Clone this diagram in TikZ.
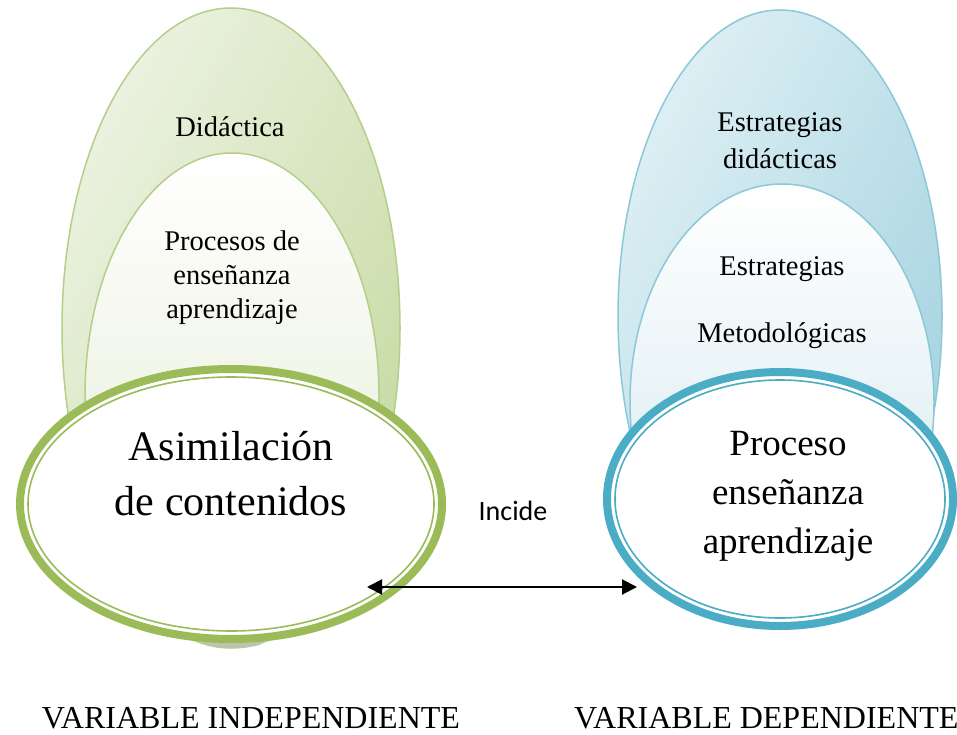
\documentclass[tikz,border=0pt]{standalone}
\usepackage{fontspec}
\setmainfont{Liberation Serif}
\newfontfamily\calfont{Carlito}
\usetikzlibrary{shapes.geometric,arrows.meta}
\definecolor{gline}{HTML}{9BBB59}
\definecolor{gedge}{HTML}{B5CE8A}
\definecolor{gfillL}{HTML}{EBF2E0}
\definecolor{gfillR}{HTML}{C6DAA2}
\definecolor{ginB}{HTML}{E3EBD1}
\definecolor{gshadow}{HTML}{BCC5AC}
\definecolor{bline}{HTML}{4BACC6}
\definecolor{bedge}{HTML}{8CC8D8}
\definecolor{bfillL}{HTML}{DDEFF4}
\definecolor{bfillR}{HTML}{A3D2DF}
\definecolor{binB}{HTML}{D2E7EE}
\tikzset{
  txt/.style={anchor=base, inner sep=0pt, font=\fontsize{28.5}{34}\selectfont},
  bigtxt/.style={anchor=base, inner sep=0pt, font=\fontsize{42}{50}\selectfont},
  midtxt/.style={anchor=base, inner sep=0pt, font=\fontsize{37}{44}\selectfont},
  vartxt/.style={inner sep=0pt, font=\fontsize{32}{38}\selectfont},
  front/.style={ellipse, inner sep=0pt, fill=white, line width=8pt},
  biarrow/.style={line width=2pt, >={Triangle[length=15pt,width=15pt]}, <->},
}
\begin{document}
\begin{tikzpicture}[x=1pt,y=-1pt]
\useasboundingbox (0,0) rectangle (957,735);
\fill[white] (0,0) rectangle (957,735);
% green eggs
\draw[gedge, line width=1.5pt, left color=gfillL, right color=gfillR, shading angle=60]
  (231,328) ellipse [x radius=169pt, y radius=320pt];
\fill[gshadow] (233,642) ellipse [x radius=30pt, y radius=6pt];
\draw[gedge, line width=1.5pt, top color=white, bottom color=ginB]
  (232,396) ellipse [x radius=147pt, y radius=243pt];
% blue eggs
\draw[bedge, line width=1.5pt, left color=bfillL, right color=bfillR, shading angle=60]
  (780,316) ellipse [x radius=162pt, y radius=306pt];
\draw[bedge, line width=1.5pt, top color=white, bottom color=binB]
  (782,402) ellipse [x radius=152pt, y radius=218pt];
% front ellipses
\node[front, draw=gline, minimum width=422pt, minimum height=270pt] (asim) at (231,504) {};
\draw[gline, line width=1.6pt] (asim.center) ellipse [x radius=203pt, y radius=127pt];
\node[front, draw=bline, minimum width=346pt, minimum height=254pt] (proc) at (780,499) {};
\draw[bline, line width=1.6pt] (proc.center) ellipse [x radius=165pt, y radius=119pt];
% texts
\node[txt] (t1) at (230,137) {Didáctica};
\node[txt] (t2) at (232,250) {Procesos de};
\node[txt] (t3) at (232,284) {enseñanza};
\node[txt] (t4) at (232,318) {aprendizaje};
\node[txt] (t5) at (780,132) {Estrategias};
\node[txt] (t6) at (780,169) {didácticas};
\node[txt] (t7) at (782,275) {Estrategias};
\node[txt] (t8) at (782,342) {Metodológicas};
\node[bigtxt] (a1) at (231,460) {Asimilación};
\node[bigtxt] (a2) at (231,515) {de contenidos};
\node[midtxt] (p1) at (788,455) {Proceso};
\node[midtxt] (p2) at (788,504) {enseñanza};
\node[midtxt] (p3) at (788,553) {aprendizaje};
\node[anchor=base, inner sep=0pt, font=\calfont\fontsize{28}{32}\selectfont] (inc) at (513,520) {Incide};
\node[vartxt, anchor=base] (vi) at (251,728) {VARIABLE INDEPENDIENTE};
\node[vartxt, anchor=base west] (vd) at (574,728) {VARIABLE DEPENDIENTE};
% arrow
\coordinate (aL) at (367,587);
\coordinate (aR) at (637,587);
\draw[biarrow] (aL) -- (aR);
\end{tikzpicture}
\end{document}
